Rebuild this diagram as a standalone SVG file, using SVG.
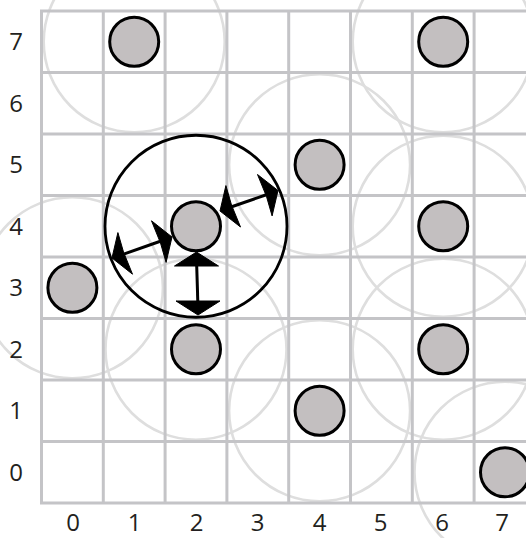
<svg xmlns="http://www.w3.org/2000/svg" width="526" height="538" viewBox="0 0 526 538">
<style>
.rng{fill:none;stroke:#dedede;stroke-width:2.6}
.grid line{stroke:#c4c4c7;stroke-width:3}
.dot{fill:#c3bfc0;stroke:#000;stroke-width:3}
.big{fill:none;stroke:#000;stroke-width:2.8}
.arr line{stroke:#000;stroke-width:3}
.arr polygon{fill:#000;stroke:#000;stroke-width:1;stroke-linejoin:miter}
.lbl{font-family:"Open Sans","Liberation Sans",sans-serif;font-size:24px;fill:#231f20;text-anchor:middle}
</style>
<rect width="526" height="538" fill="#fff"/>
<g id="ranges">
<circle class="rng" cx="134.2" cy="41.75" r="90.5"/>
<circle class="rng" cx="443.2" cy="41.75" r="90.5"/>
<circle class="rng" cx="319.6" cy="164.75" r="90.5"/>
<circle class="rng" cx="443.2" cy="226.25" r="90.5"/>
<circle class="rng" cx="72.4" cy="287.75" r="90.5"/>
<circle class="rng" cx="196" cy="349.25" r="90.5"/>
<circle class="rng" cx="443.2" cy="349.25" r="90.5"/>
<circle class="rng" cx="319.6" cy="410.75" r="90.5"/>
<circle class="rng" cx="505" cy="472.25" r="90.5"/>
</g>
<g class="grid" id="grid">
<line x1="41.5" y1="11" x2="41.5" y2="503"/>
<line x1="103.3" y1="11" x2="103.3" y2="503"/>
<line x1="165.1" y1="11" x2="165.1" y2="503"/>
<line x1="226.9" y1="11" x2="226.9" y2="503"/>
<line x1="288.7" y1="11" x2="288.7" y2="503"/>
<line x1="350.5" y1="11" x2="350.5" y2="503"/>
<line x1="412.3" y1="11" x2="412.3" y2="503"/>
<line x1="474.1" y1="11" x2="474.1" y2="503"/>
<line x1="40" y1="11" x2="536" y2="11"/>
<line x1="40" y1="72.5" x2="536" y2="72.5"/>
<line x1="40" y1="134" x2="536" y2="134"/>
<line x1="40" y1="195.5" x2="536" y2="195.5"/>
<line x1="40" y1="257" x2="536" y2="257"/>
<line x1="40" y1="318.5" x2="536" y2="318.5"/>
<line x1="40" y1="380" x2="536" y2="380"/>
<line x1="40" y1="441.5" x2="536" y2="441.5"/>
<line x1="40" y1="503" x2="536" y2="503"/>
</g>
<g id="labels">
<text class="lbl" x="16" y="50">7</text>
<text class="lbl" x="16" y="111.5">6</text>
<text class="lbl" x="16" y="173">5</text>
<text class="lbl" x="16" y="234.5">4</text>
<text class="lbl" x="16" y="296">3</text>
<text class="lbl" x="16" y="357.5">2</text>
<text class="lbl" x="16" y="419">1</text>
<text class="lbl" x="16" y="480.5">0</text>
<text class="lbl" x="73" y="531">0</text>
<text class="lbl" x="134.5" y="531">1</text>
<text class="lbl" x="196.5" y="531">2</text>
<text class="lbl" x="257.5" y="531">3</text>
<text class="lbl" x="319.5" y="531">4</text>
<text class="lbl" x="380.5" y="531">5</text>
<text class="lbl" x="442" y="531">6</text>
<text class="lbl" x="502" y="531">7</text>
</g>
<g id="node-2-4">
<circle class="big" cx="196" cy="226.25" r="91"/>
<circle class="dot" cx="196" cy="226.25" r="24.5"/>
</g>
<g id="node-1-7"><circle class="dot" cx="134.2" cy="41.75" r="24.5"/></g>
<g id="node-6-7"><circle class="dot" cx="443.2" cy="41.75" r="24.5"/></g>
<g id="node-4-5"><circle class="dot" cx="319.6" cy="164.75" r="24.5"/></g>
<g id="node-6-4"><circle class="dot" cx="443.2" cy="226.25" r="24.5"/></g>
<g id="node-0-3"><circle class="dot" cx="72.4" cy="287.75" r="24.5"/></g>
<g id="node-2-2"><circle class="dot" cx="196" cy="349.25" r="24.5"/></g>
<g id="node-6-2"><circle class="dot" cx="443.2" cy="349.25" r="24.5"/></g>
<g id="node-4-1"><circle class="dot" cx="319.6" cy="410.75" r="24.5"/></g>
<g id="node-7-0"><circle class="dot" cx="505" cy="472.25" r="24.5"/></g>
<g id="connectors" class="arr">
<g id="arrow-left">
<line x1="161" y1="241" x2="123" y2="254.3"/>
<polygon points="172,237 166.1,262.4 160.5,243 151.5,220.8"/>
<polygon points="112,258 117.9,232.6 123.5,252 132.5,274.2"/>
</g>
<g id="arrow-right">
<line x1="231" y1="207" x2="267" y2="194.5"/>
<polygon points="220,211 225.9,185.6 231.5,205 240.5,227"/>
<polygon points="278,190.5 272.1,215.9 266.5,196.5 257.5,174.5"/>
</g>
<g id="arrow-down">
<line x1="196.6" y1="262" x2="197.9" y2="305"/>
<polygon points="196.5,252 218.5,266 174.5,266"/>
<polygon points="198,315 220,301 176,301"/>
</g>
</g>
</svg>
